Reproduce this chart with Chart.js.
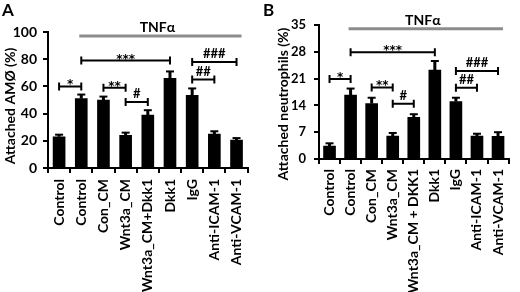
<!DOCTYPE html>
<html><head><meta charset="utf-8">
<script src="https://cdn.jsdelivr.net/npm/chart.js@4"></script>
<style>
html,body{margin:0;padding:0;background:#fff;}
#wrap{position:relative;width:520px;height:292px;overflow:hidden;}
.panel{position:absolute;top:0;width:260px;height:292px;}
.lbl{position:absolute;top:-1px;font:bold 17px Lato, sans-serif;color:#000;}
</style></head><body>
<div id="wrap">
<div class="panel" style="left:0"><canvas id="cA"></canvas></div>
<div class="panel" style="left:260px"><canvas id="cB"></canvas></div>
<div class="lbl" style="left:2px">A</div>
<div class="lbl" style="left:263px">B</div>
</div>
<script>
const categoriesA = ['Control','Control','Con_CM','Wnt3a_CM','Wnt3a_CM+Dkk1','Dkk1','IgG','Anti-ICAM-1','Anti-VCAM-1'];
const categoriesB = ['Control','Control','Con_CM','Wnt3a_CM','Wnt3a_CM + DKK1','Dkk1','IgG','Anti-ICAM-1','Anti-VCAM-1'];
const valuesA = [23, 51, 50, 24, 39, 66, 53.5, 25, 20.5];
const errorsA = [1.5, 3, 2.5, 2, 3.5, 5, 5, 2, 1.5];
const valuesB = [3.4, 16.7, 14.5, 6, 10.9, 23.2, 15, 6, 5.9];
const errorsB = [0.7, 1.7, 1.5, 0.8, 0.8, 2.4, 1, 0.6, 1.1];
const ticksA = [0, 20, 40, 60, 80, 100];
const ticksB = [0, 7, 14, 21, 28, 35];
const bracketsA = [[0,1,60,'*'],[2,3,59,'**'],[3,4,48.5,'#'],[1,5,79,'***'],[6,7,65,'##'],[6,8,78,'###']];
const bracketsB = [[0,1,20.9,'*'],[2,3,18.7,'**'],[3,4,14.4,'#'],[1,5,27.9,'***'],[6,7,18.6,'##'],[6,8,23,'###']];
const tnfA = [1, 8, 97, 'TNFα'];
const tnfB = [1, 8, 34, 'TNFα'];
const titleA = 'Attached AMØ (%)';
const titleB = 'Attached neutrophils (%)';

const FONT = 'Lato, "Open Sans", sans-serif';

function annPlugin(vals, errs, brackets, tnf, title, geom) {
  return {
    id: 'ann',
    afterDatasetsDraw(chart) {
      const ctx = chart.ctx, x = chart.scales.x, y = chart.scales.y;
      ctx.save();
      ctx.strokeStyle = '#000'; ctx.fillStyle = '#000';
      vals.forEach((v, i) => {
        const cx = x.getPixelForValue(i);
        const y0 = y.getPixelForValue(v), y1 = y.getPixelForValue(v + errs[i]);
        ctx.lineWidth = 3;
        ctx.beginPath(); ctx.moveTo(cx, y0); ctx.lineTo(cx, y1); ctx.stroke();
        ctx.lineWidth = 2;
        ctx.beginPath(); ctx.moveTo(cx - 4, y1); ctx.lineTo(cx + 4, y1); ctx.stroke();
      });
      ctx.textAlign = 'center';
      ctx.lineWidth = 2;
      brackets.forEach(([a, b, v, t]) => {
        const x1 = x.getPixelForValue(a), x2 = x.getPixelForValue(b), yy = y.getPixelForValue(v);
        ctx.beginPath();
        ctx.moveTo(x1, yy); ctx.lineTo(x2, yy);
        ctx.moveTo(x1, yy - 4); ctx.lineTo(x1, yy + 4);
        ctx.moveTo(x2, yy - 4); ctx.lineTo(x2, yy + 4);
        ctx.stroke();
        ctx.textBaseline = 'alphabetic';
        if (t.includes('*')) {
          ctx.font = 'bold 12px "DejaVu Sans", sans-serif';
          ctx.fillText(t, (x1 + x2) / 2, yy + 2);
        } else {
          ctx.font = 'bold 13px ' + FONT;
          ctx.fillText(t, (x1 + x2) / 2, yy - 4);
        }
      });
      const [ta, tb, tv, tt] = tnf;
      const lx1 = x.getPixelForValue(ta) - 2, lx2 = x.getPixelForValue(tb) + 5, ly = y.getPixelForValue(tv);
      ctx.strokeStyle = '#8c8c8c'; ctx.lineWidth = 3;
      ctx.beginPath(); ctx.moveTo(lx1, ly); ctx.lineTo(lx2, ly); ctx.stroke();
      ctx.font = 'bold 14px ' + FONT;
      ctx.textBaseline = 'alphabetic';
      ctx.fillText(tt, (lx1 + lx2) / 2 - 3, ly - 4);
      // y-axis title
      ctx.translate(geom.titleX, geom.titleY);
      ctx.rotate(-Math.PI / 2);
      ctx.font = 'bold 14px ' + FONT;
      ctx.textAlign = 'center';
      ctx.textBaseline = 'middle';
      ctx.fillText(title, 0, 0);
      ctx.restore();
    }
  };
}

function makeChart(id, cats, vals, errs, ticks, brackets, tnf, title, geom) {
  new Chart(document.getElementById(id), {
    type: 'bar',
    data: { labels: cats, datasets: [{ data: vals, backgroundColor: '#000', borderWidth: 0, barThickness: 12 }] },
    options: {
      responsive: true, maintainAspectRatio: false, animation: false,
      devicePixelRatio: 1,
      layout: { padding: { left: geom.padLeft, top: geom.top, right: geom.padRight, bottom: 0 } },
      plugins: { legend: { display: false }, tooltip: { enabled: false } },
      scales: {
        x: {
          grid: { offset: true, drawOnChartArea: false, drawTicks: true, tickLength: 5, color: '#000', lineWidth: 2 },
          border: { display: true, color: '#000', width: 2 },
          ticks: { color: '#000', font: { family: FONT, size: 14, weight: 'bold' }, maxRotation: 90, minRotation: 90, padding: geom.xPad, autoSkip: false },
          afterFit(s) { s.height = geom.bottomH; }
        },
        y: {
          min: ticks[0], max: ticks[ticks.length - 1],
          afterBuildTicks(s) { s.ticks = ticks.map(v => ({ value: v })); },
          grid: { drawOnChartArea: false, drawTicks: true, tickLength: 5, color: '#000', lineWidth: 2 },
          border: { display: true, color: '#000', width: 2 },
          ticks: { color: '#000', font: { family: FONT, size: geom.yFont, weight: 'bold' }, padding: geom.yPad },
          title: { display: false },
          afterFit(s) { s.width = geom.yW; }
        }
      }
    },
    plugins: [annPlugin(vals, errs, brackets, tnf, title, geom)]
  });
}

makeChart('cA', categoriesA, valuesA, errorsA, ticksA, bracketsA, tnfA, titleA,
  { padLeft: 0, padRight: 12, top: 32, bottomH: 124, yW: 48, xPad: 6, titleX: 10, titleY: 106, yFont: 14, yPad: 6 });
makeChart('cB', categoriesB, valuesB, errorsB, ticksB, bracketsB, tnfB, titleB,
  { padLeft: 14, padRight: 3, top: 25, bottomH: 133, yW: 45, xPad: 5, titleX: 23, titleY: 104, yFont: 13, yPad: 8 });
</script>
</body></html>
